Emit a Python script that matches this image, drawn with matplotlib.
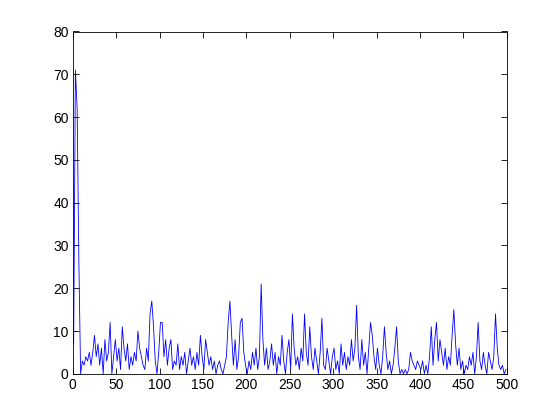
import matplotlib
matplotlib.use('Agg')
import matplotlib.pyplot as plt
import numpy as np

# sample positions (every other index, 1..499) and values
x = np.arange(1, 500, 2)
values = [
    7, 71, 62, 26, 0, 3, 2, 4, 3, 5,
    2, 5, 9, 4, 7, 2, 6, 0, 8, 3,
    5, 12, 0, 4, 8, 3, 6, 1, 11, 6,
    3, 7, 1, 4, 2, 5, 3, 10, 6, 4,
    2, 1, 6, 3, 14, 17, 11, 3, 0, 5,
    12, 12, 4, 8, 2, 6, 8, 1, 3, 2,
    7, 1, 4, 2, 5, 0, 3, 6, 2, 4,
    1, 5, 2, 9, 4, 1, 8, 5, 2, 4,
    1, 3, 0, 2, 3, 1, 0, 2, 4, 12,
    17, 9, 2, 8, 1, 4, 12, 13, 5, 2,
    0, 3, 1, 5, 2, 6, 1, 4, 21, 8,
    2, 6, 1, 3, 7, 2, 5, 0, 4, 2,
    9, 3, 0, 5, 8, 1, 14, 6, 2, 4,
    1, 6, 3, 14, 5, 2, 11, 4, 1, 6,
    3, 0, 5, 13, 2, 1, 6, 3, 0, 4,
    6, 1, 3, 0, 7, 2, 5, 1, 4, 2,
    8, 3, 6, 16, 4, 1, 8, 2, 5, 0,
    6, 12, 9, 4, 1, 6, 2, 0, 4, 11,
    5, 1, 3, 0, 2, 6, 11, 3, 0, 1,
    0, 1, 0, 1, 5, 3, 2, 1, 3, 2,
    1, 3, 0, 2, 0, 4, 11, 2, 8, 12,
    3, 8, 5, 2, 6, 1, 4, 2, 9, 15,
    7, 2, 6, 1, 3, 0, 2, 1, 4, 2,
    5, 0, 4, 12, 3, 1, 5, 2, 0, 5,
    3, 1, 4, 14, 6, 2, 1, 2, 0, 1,
]
xticks = [0, 50, 100, 150, 200, 250, 300, 350, 400, 450, 500]
yticks = [0, 10, 20, 30, 40, 50, 60, 70, 80]

plt.rcParams['font.family'] = ['Liberation Sans', 'DejaVu Sans']

fig = plt.figure(figsize=(5.6, 4.2), dpi=100)
ax = fig.add_axes([0.13, 0.11, 0.775, 0.815])
ax.plot(x, values, color='#0000ff', linewidth=0.6)

ax.set_xlim(0, 500)
ax.set_ylim(0, 80)
ax.set_xticks(xticks)
ax.set_yticks(yticks)
ax.tick_params(direction='in', top=True, right=True, labelsize=10,
               length=4, width=0.6, colors='black', pad=3)
for s in ax.spines.values():
    s.set_linewidth(0.6)

fig.savefig('out.png', dpi=100, facecolor='white')
